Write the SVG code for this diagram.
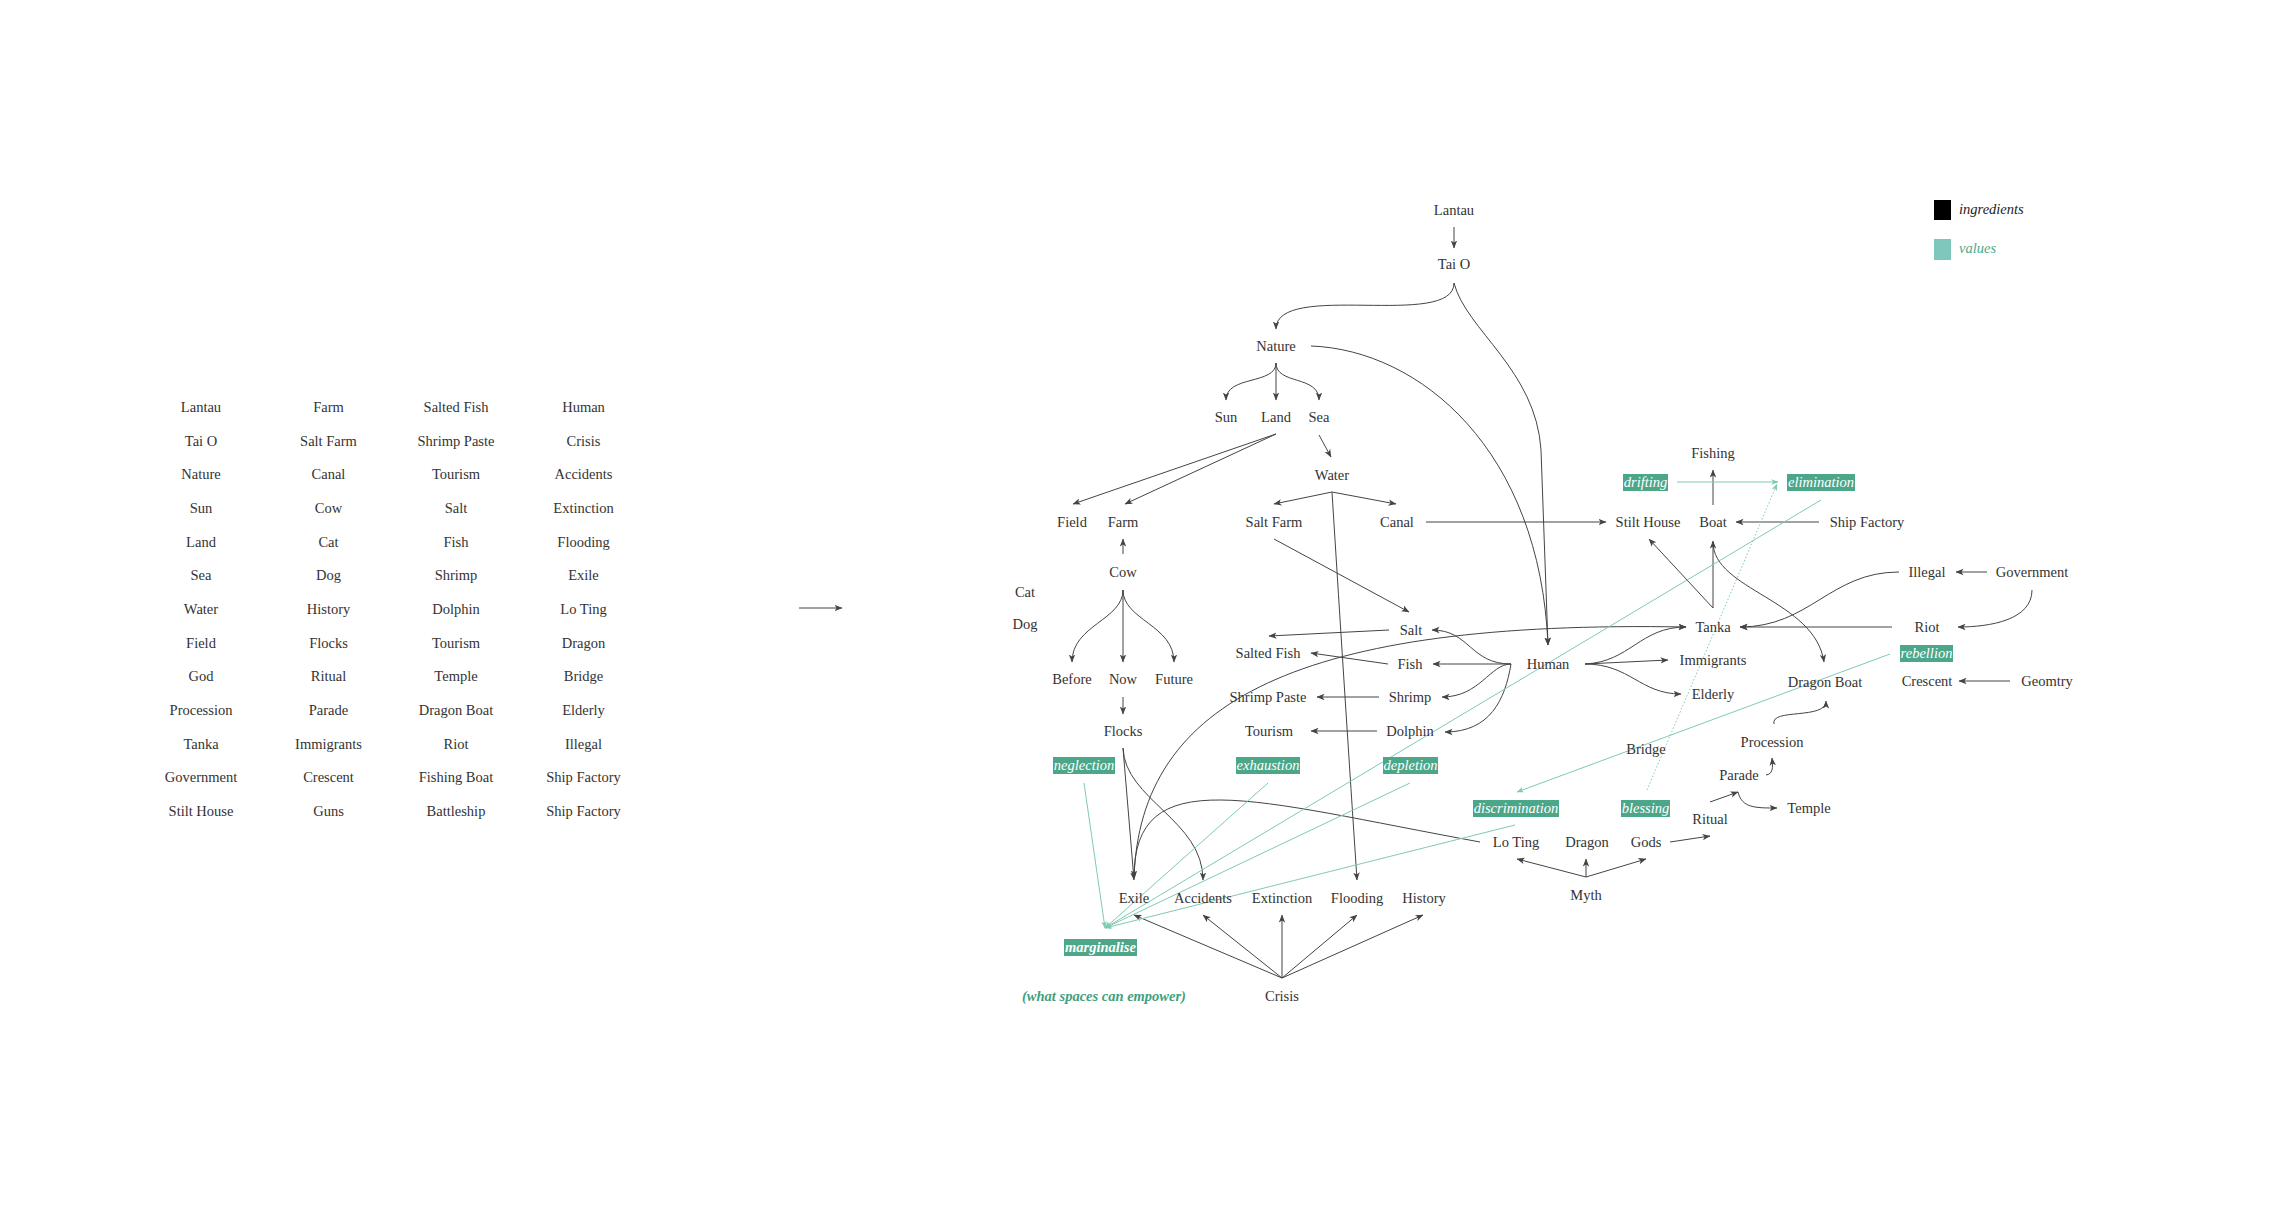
<svg xmlns="http://www.w3.org/2000/svg" width="2272" height="1220" viewBox="0 0 2272 1220">
<defs>
<style>
text{font-family:"Liberation Serif","Times New Roman",serif;font-size:14.5px;fill:#333;text-anchor:middle}
.c{fill:none;stroke:#444;stroke-width:1}
.a{marker-end:url(#ah)}
.t{fill:none;stroke:#7fcab4;stroke-width:1;marker-end:url(#th)}
.d{stroke-dasharray:1.5 2}
.box{fill:#4ca68a}
.bt{fill:#fff;font-style:italic}
.bb{fill:#fff;font-style:italic;font-weight:bold}
.lg{text-anchor:start;font-style:italic}
</style>
<marker id="ah" viewBox="0 0 8 8" refX="7.5" refY="4" markerWidth="8" markerHeight="8" markerUnits="userSpaceOnUse" orient="auto"><path d="M0,0.8 L8,4 L0,7.2 L2,4z" fill="#444"/></marker>
<marker id="th" viewBox="0 0 8 8" refX="7.5" refY="4" markerWidth="7" markerHeight="7" markerUnits="userSpaceOnUse" orient="auto"><path d="M0,0.8 L8,4 L0,7.2 L2,4z" fill="#7fcab4"/></marker>
</defs>
<rect width="2272" height="1220" fill="#fff"/>

<g id="word-list">
<text x="201" y="412">Lantau</text><text x="201" y="445.7">Tai O</text><text x="201" y="479.3">Nature</text><text x="201" y="513">Sun</text><text x="201" y="546.7">Land</text><text x="201" y="580.3">Sea</text><text x="201" y="614">Water</text><text x="201" y="647.7">Field</text><text x="201" y="681.3">God</text><text x="201" y="715">Procession</text><text x="201" y="748.7">Tanka</text><text x="201" y="782.3">Government</text><text x="201" y="816">Stilt House</text>
<text x="328.5" y="412">Farm</text><text x="328.5" y="445.7">Salt Farm</text><text x="328.5" y="479.3">Canal</text><text x="328.5" y="513">Cow</text><text x="328.5" y="546.7">Cat</text><text x="328.5" y="580.3">Dog</text><text x="328.5" y="614">History</text><text x="328.5" y="647.7">Flocks</text><text x="328.5" y="681.3">Ritual</text><text x="328.5" y="715">Parade</text><text x="328.5" y="748.7">Immigrants</text><text x="328.5" y="782.3">Crescent</text><text x="328.5" y="816">Guns</text>
<text x="456" y="412">Salted Fish</text><text x="456" y="445.7">Shrimp Paste</text><text x="456" y="479.3">Tourism</text><text x="456" y="513">Salt</text><text x="456" y="546.7">Fish</text><text x="456" y="580.3">Shrimp</text><text x="456" y="614">Dolphin</text><text x="456" y="647.7">Tourism</text><text x="456" y="681.3">Temple</text><text x="456" y="715">Dragon Boat</text><text x="456" y="748.7">Riot</text><text x="456" y="782.3">Fishing Boat</text><text x="456" y="816">Battleship</text>
<text x="583.5" y="412">Human</text><text x="583.5" y="445.7">Crisis</text><text x="583.5" y="479.3">Accidents</text><text x="583.5" y="513">Extinction</text><text x="583.5" y="546.7">Flooding</text><text x="583.5" y="580.3">Exile</text><text x="583.5" y="614">Lo Ting</text><text x="583.5" y="647.7">Dragon</text><text x="583.5" y="681.3">Bridge</text><text x="583.5" y="715">Elderly</text><text x="583.5" y="748.7">Illegal</text><text x="583.5" y="782.3">Ship Factory</text><text x="583.5" y="816">Ship Factory</text>
</g>

<g id="connectors">
<path class="c a" d="M799,608 L842,608"/>
<path class="c a" d="M1454,227 L1454,248"/>
<path class="c a" d="M1454,283 C1454,330 1276,280 1276,329"/>
<path class="c a" d="M1454,283 C1466,330 1536,370 1541,450 L1548,645"/>
<path class="c a" d="M1311,346 C1420,350 1540,450 1548,645"/>
<path class="c a" d="M1276,363 C1276,385 1226,375 1226,400"/>
<path class="c a" d="M1276,363 L1276,400"/>
<path class="c a" d="M1276,363 C1276,385 1319,375 1319,400"/>
<path class="c a" d="M1319,435 L1331,457"/>
<path class="c a" d="M1276,434 L1073,504"/>
<path class="c a" d="M1276,434 L1125,504"/>
<path class="c a" d="M1332,492 L1274,504"/>
<path class="c a" d="M1332,492 L1396,504"/>
<path class="c a" d="M1332,492 Q1345,700 1357,880"/>
<path class="c a" d="M1426,522 L1606,522"/>
<path class="c a" d="M1123,554 L1123,539"/>
<path class="c a" d="M1123,590 C1123,620 1072,625 1072,662"/>
<path class="c a" d="M1123,590 L1123,662"/>
<path class="c a" d="M1123,590 C1123,620 1174,625 1174,662"/>
<path class="c a" d="M1123,697 L1123,714"/>
<path class="c a" d="M1123,748 L1134,880"/>
<path class="c a" d="M1123,748 C1125,800 1203,820 1203,880"/>
<path class="c a" d="M1274,539 L1409,612"/>
<path class="c a" d="M1389,630 L1269,636"/>
<path class="c a" d="M1388,664 L1311,653"/>
<path class="c a" d="M1379,697 L1317,697"/>
<path class="c a" d="M1377,731 L1311,731"/>
<path class="c a" d="M1511,664 C1470,664 1470,630 1432,630"/>
<path class="c a" d="M1511,664 L1433,664"/>
<path class="c a" d="M1511,664 C1490,664 1480,697 1442,697"/>
<path class="c a" d="M1511,664 C1505,700 1490,732 1445,732"/>
<path class="c a" d="M1585,664 C1630,662 1640,627 1686,627"/>
<path class="c a" d="M1585,664 L1668,660"/>
<path class="c a" d="M1585,664 C1630,664 1640,694 1681,694"/>
<path class="c a" d="M1134,878 C1140,700 1300,620 1686,627"/>
<path class="c a" d="M1480,842 C1250,800 1134,760 1134,878"/>
<path class="c a" d="M1713,608 L1649,539"/>
<path class="c a" d="M1713,608 L1713,541"/>
<path class="c a" d="M1713,505 L1713,470"/>
<path class="c a" d="M1819,522 L1736,522"/>
<path class="c a" d="M1713,542 C1713,590 1815,600 1824,662"/>
<path class="c a" d="M1899,572 C1830,572 1810,627 1740,627"/>
<path class="c a" d="M1892,627 L1740,627"/>
<path class="c a" d="M1987,572 L1956,572"/>
<path class="c a" d="M2032,590 C2032,620 1990,627 1958,627"/>
<path class="c a" d="M2010,681 L1959,681"/>
<path class="c a" d="M1774,724 C1770,708 1826,720 1826,701"/>
<path class="c a" d="M1766,775 C1773,774 1773,768 1772,758"/>
<path class="c a" d="M1710,802 L1738,792"/>
<path class="c a" d="M1738,792 C1742,808 1755,808 1777,808"/>
<path class="c a" d="M1670,842 L1710,836"/>
<path class="c a" d="M1586,877 L1517,859"/>
<path class="c a" d="M1586,877 L1586,859"/>
<path class="c a" d="M1586,877 L1646,859"/>
<path class="c a" d="M1282,978 L1134,915"/>
<path class="c a" d="M1282,978 L1203,915"/>
<path class="c a" d="M1282,978 L1282,915"/>
<path class="c a" d="M1282,978 L1357,915"/>
<path class="c a" d="M1282,978 L1423,915"/>
<path class="t" d="M1677,482 L1778,482"/>
<path class="t d" d="M1647,790 L1777,484"/>
<path class="t" d="M1821,500 L1105,928"/>
<path class="t" d="M1084,783 L1105,928"/>
<path class="t" d="M1268,783 L1105,928"/>
<path class="t" d="M1410,783 L1105,928"/>
<path class="t" d="M1515,825 L1105,928"/>
<path class="t" d="M1890,654 L1517,792"/>
</g>

<g id="legend">
<rect x="1934" y="200" width="17" height="20" fill="#000"/>
<text class="lg" x="1959" y="214" style="fill:#222">ingredients</text>
<rect x="1934" y="239" width="17" height="21" fill="#7fc6bd"/>
<text class="lg" x="1959" y="253" style="fill:#4aaa8c">values</text>
</g>

<g id="n-lantau"><text x="1454" y="215">Lantau</text></g>
<g id="n-taio"><text x="1454" y="269">Tai O</text></g>
<g id="n-nature"><text x="1276" y="351">Nature</text></g>
<g id="n-sun"><text x="1226" y="422">Sun</text></g>
<g id="n-land"><text x="1276" y="422">Land</text></g>
<g id="n-sea"><text x="1319" y="422">Sea</text></g>
<g id="n-water"><text x="1332" y="480">Water</text></g>
<g id="n-field"><text x="1072" y="527">Field</text></g>
<g id="n-farm"><text x="1123" y="527">Farm</text></g>
<g id="n-saltfarm"><text x="1274" y="527">Salt Farm</text></g>
<g id="n-canal"><text x="1397" y="527">Canal</text></g>
<g id="n-stilthouse"><text x="1648" y="527">Stilt House</text></g>
<g id="n-boat"><text x="1713" y="527">Boat</text></g>
<g id="n-shipfactory"><text x="1867" y="527">Ship Factory</text></g>
<g id="n-fishing"><text x="1713" y="458">Fishing</text></g>
<g id="n-drifting"><rect class="box" x="1623" y="474" width="45" height="17"/><text class="bt" x="1645.5" y="487">drifting</text></g>
<g id="n-elimination"><rect class="box" x="1787" y="474" width="68" height="17"/><text class="bt" x="1821" y="487">elimination</text></g>
<g id="n-cow"><text x="1123" y="577">Cow</text></g>
<g id="n-cat"><text x="1025" y="597">Cat</text></g>
<g id="n-dog"><text x="1025" y="629">Dog</text></g>
<g id="n-illegal"><text x="1927" y="577">Illegal</text></g>
<g id="n-government"><text x="2032" y="577">Government</text></g>
<g id="n-salt"><text x="1411" y="635">Salt</text></g>
<g id="n-tanka"><text x="1713" y="632">Tanka</text></g>
<g id="n-riot"><text x="1927" y="632">Riot</text></g>
<g id="n-saltedfish"><text x="1268" y="658">Salted Fish</text></g>
<g id="n-fish"><text x="1410" y="669">Fish</text></g>
<g id="n-human"><text x="1548" y="669">Human</text></g>
<g id="n-immigrants"><text x="1713" y="665">Immigrants</text></g>
<g id="n-rebellion"><rect class="box" x="1900" y="645" width="53" height="17"/><text class="bt" x="1926.5" y="658">rebellion</text></g>
<g id="n-before"><text x="1072" y="684">Before</text></g>
<g id="n-now"><text x="1123" y="684">Now</text></g>
<g id="n-future"><text x="1174" y="684">Future</text></g>
<g id="n-dragonboat"><text x="1825" y="687">Dragon Boat</text></g>
<g id="n-crescent"><text x="1927" y="686">Crescent</text></g>
<g id="n-geomtry"><text x="2047" y="686">Geomtry</text></g>
<g id="n-shrimppaste"><text x="1268" y="702">Shrimp Paste</text></g>
<g id="n-shrimp"><text x="1410" y="702">Shrimp</text></g>
<g id="n-elderly"><text x="1713" y="699">Elderly</text></g>
<g id="n-flocks"><text x="1123" y="736">Flocks</text></g>
<g id="n-tourism"><text x="1269" y="736">Tourism</text></g>
<g id="n-dolphin"><text x="1410" y="736">Dolphin</text></g>
<g id="n-procession"><text x="1772" y="747">Procession</text></g>
<g id="n-bridge"><text x="1646" y="754">Bridge</text></g>
<g id="n-neglection"><rect class="box" x="1053" y="757" width="62" height="17"/><text class="bt" x="1084" y="770">neglection</text></g>
<g id="n-exhaustion"><rect class="box" x="1236" y="757" width="64" height="17"/><text class="bt" x="1268" y="770">exhaustion</text></g>
<g id="n-depletion"><rect class="box" x="1383" y="757" width="55" height="17"/><text class="bt" x="1410.5" y="770">depletion</text></g>
<g id="n-parade"><text x="1739" y="780">Parade</text></g>
<g id="n-discrimination"><rect class="box" x="1473" y="800" width="86" height="17"/><text class="bt" x="1516" y="813">discrimination</text></g>
<g id="n-blessing"><rect class="box" x="1621" y="800" width="49" height="17"/><text class="bt" x="1645.5" y="813">blessing</text></g>
<g id="n-temple"><text x="1809" y="813">Temple</text></g>
<g id="n-ritual"><text x="1710" y="824">Ritual</text></g>
<g id="n-loting"><text x="1516" y="847">Lo Ting</text></g>
<g id="n-dragon"><text x="1587" y="847">Dragon</text></g>
<g id="n-gods"><text x="1646" y="847">Gods</text></g>
<g id="n-myth"><text x="1586" y="900">Myth</text></g>
<g id="n-exile"><text x="1134" y="903">Exile</text></g>
<g id="n-accidents"><text x="1203" y="903">Accidents</text></g>
<g id="n-extinction"><text x="1282" y="903">Extinction</text></g>
<g id="n-flooding"><text x="1357" y="903">Flooding</text></g>
<g id="n-history"><text x="1424" y="903">History</text></g>
<g id="n-marginalise"><rect class="box" x="1064" y="939" width="73" height="17"/><text class="bb" x="1100.5" y="952">marginalise</text></g>
<g id="n-crisis"><text x="1282" y="1001">Crisis</text></g>
<g id="n-empower"><text x="1104" y="1001" style="fill:#3fa07f;font-style:italic;font-weight:bold">(what spaces can empower)</text></g>
</svg>
